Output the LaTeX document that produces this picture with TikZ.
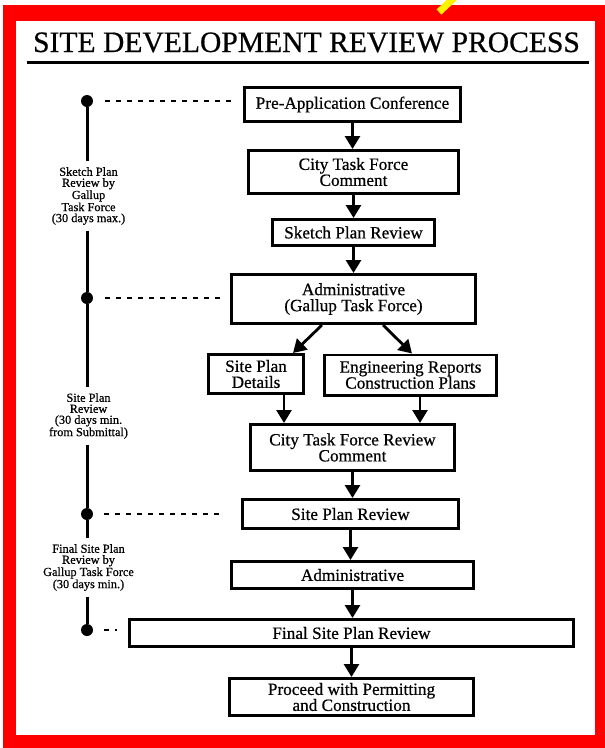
\documentclass[tikz,border=0pt]{standalone}
\usepackage{fontspec}
\setmainfont[FakeBold=0.6]{Liberation Serif}
\usetikzlibrary{arrows.meta,calc}
\begin{document}
\begin{tikzpicture}[x=1pt,y=-1pt,
 box/.style={draw, line width=2.6pt, align=center, inner sep=0pt, font=\fontsize{17.2}{16}\selectfont},
 arr/.style={line width=2.8pt, -{Triangle[width=15pt,length=13pt]}},
 tl/.style={line width=3pt},
 dotn/.style={circle, fill, inner sep=0pt, minimum size=12pt},
 dsh/.style={line width=2.2pt, dash pattern=on 5pt off 6pt},
 lbl/.style={align=center, inner xsep=0pt, inner ysep=6pt, font=\fontsize{12.3}{11}\selectfont}]
\useasboundingbox (0,0) rectangle (605,748);
\fill[red] (3,5) rectangle (605,748);
\fill[white] (16,21) rectangle (595,735);
\draw[yellow, line width=7pt] (439,12) -- (455,-3);

\node[font=\fontsize{29.6}{30}\selectfont, anchor=base, inner sep=0pt] (title) at (306.5,52) {SITE DEVELOPMENT REVIEW PROCESS};
\draw[line width=2.5pt] (27,62.5) -- (589,62.5);

% boxes
\node[box, minimum width=216.4pt, minimum height=34.4pt] (pre) at (352.5,104.5) {Pre-Application Conference};
\node[box, minimum width=210.4pt, minimum height=43.4pt] (ctf) at (353.5,172) {City Task Force\\Comment};
\node[box, minimum width=162.4pt, minimum height=26.4pt] (skp) at (353.5,232.5) {Sketch Plan Review};
\node[box, minimum width=244.4pt, minimum height=49.4pt] (adm) at (353.5,299) {Administrative\\(Gallup Task Force)};
\node[box, minimum width=95.4pt, minimum height=39.4pt] (spd) at (256,374) {Site Plan\\Details};
\node[box, minimum width=172.4pt, minimum height=40.4pt] (eng) at (410.5,375) {Engineering Reports\\Construction Plans};
\node[box, minimum width=204.4pt, minimum height=46.4pt] (ctfr) at (352.5,447.5) {City Task Force Review\\Comment};
\node[box, minimum width=216.4pt, minimum height=29.4pt] (spr) at (350.5,514) {Site Plan Review};
\node[box, minimum width=242.4pt, minimum height=27.4pt] (adm2) at (352.5,575) {Administrative};
\node[box, minimum width=444.4pt, minimum height=27.4pt] (fspr) at (351.5,633) {Final Site Plan Review};
\node[box, minimum width=244.4pt, minimum height=37.4pt] (proc) at (351.5,697) {Proceed with Permitting\\and Construction};

% arrows
\draw[arr] (pre.south) -- (pre.south |- ctf.north);
\draw[arr] (ctf.south) -- (ctf.south |- skp.north);
\draw[arr] (skp.south) -- (skp.south |- adm.north);
\draw[arr] ($(adm.south)+(-31.5,0)$) -- ($(spd.north)+(37,0)$);
\draw[arr] ($(adm.south)+(29.5,0)$) -- ($(eng.north)+(1.5,0)$);
\coordinate (s5) at ($(spd.south)+(28,0)$);
\coordinate (s6) at ($(eng.south)+(9.5,0)$);
\draw[arr] (s5) -- (s5 |- ctfr.north);
\draw[arr] (s6) -- (s6 |- ctfr.north);
\draw[arr] (ctfr.south) -- (ctfr.south |- spr.north);
\draw[arr] (spr.south) -- (spr.south |- adm2.north);
\draw[arr] (adm2.south) -- (adm2.south |- fspr.north);
\draw[arr] (fspr.south) -- (fspr.south |- proc.north);

% timeline
\node[dotn] (d1) at (87,101) {};
\node[dotn] (d2) at (87,298) {};
\node[dotn] (d3) at (87,514) {};
\node[dotn] (d4) at (87,630) {};
\node[lbl] (l1) at (88.5,196) {Sketch Plan\\Review by\\Gallup\\Task Force\\(30 days max.)};
\node[lbl] (l2) at (88.5,416) {Site Plan\\Review\\(30 days min.\\from Submittal)};
\node[lbl] (l3) at (88.5,567.5) {Final Site Plan\\Review by\\Gallup Task Force\\(30 days min.)};
\draw[tl] (d1) -- (d1 |- l1.north);
\draw[tl] (d2 |- l1.south) -- (d2);
\draw[tl] (d2) -- (d2 |- l2.north);
\draw[tl] (d3 |- l2.south) -- (d3);
\draw[tl] (d3) -- (d3 |- l3.north);
\draw[tl] (d4 |- l3.south) -- (d4);

\draw[dsh, shorten <=12pt, shorten >=12.3pt] (d1) -- (d1 -| pre.west);
\draw[dsh, shorten <=12pt, shorten >=8.3pt] (d2) -- (d2 -| adm.west);
\draw[dsh, shorten <=11pt, shorten >=20.3pt] (d3) -- (d3 -| spr.west);
\draw[dsh, shorten <=11pt, shorten >=11.3pt] (d4) -- (d4 -| fspr.west);
\end{tikzpicture}
\end{document}
